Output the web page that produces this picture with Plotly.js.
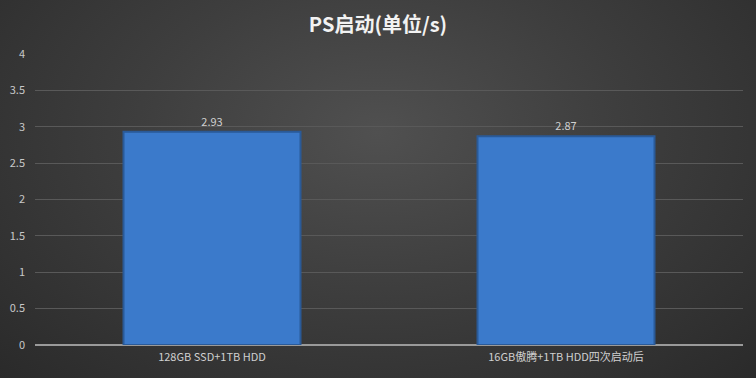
<!DOCTYPE html>
<html><head><meta charset="utf-8">
<script src="https://cdn.plot.ly/plotly-3.0.1.min.js"></script>
<style>
html,body{margin:0;padding:0;width:756px;height:378px;overflow:hidden;}
body{background:radial-gradient(ellipse at 50% 35%, #505050 0%, #3e3e3e 45%, #2a2a2a 100%);}
#chart{width:756px;height:378px;}
</style></head>
<body><div id="chart"></div>
<script>
const categories = ["128GB SSD+1TB HDD", "16GB傲腾+1TB HDD四次启动后"];
const values = [2.93, 2.87];
const labels = ["2.93", "2.87"];
const tickVals = [0, 0.5, 1, 1.5, 2, 2.5, 3, 3.5, 4];
const tickText = ["0", "0.5", "1", "1.5", "2", "2.5", "3", "3.5", "4"];

const fontFam = '"Microsoft YaHei","Noto Sans CJK SC","DejaVu Sans",sans-serif';
Plotly.newPlot('chart', [{
  type: 'bar',
  x: categories,
  y: values,
  text: labels,
  textposition: 'outside',
  textfont: {color: '#d0d0d0', size: 11, family: fontFam},
  cliponaxis: false,
  marker: {color: '#3b7acb', line: {color: '#2a5a98', width: 2}},
  hoverinfo: 'none'
}], {
  width: 756, height: 378,
  paper_bgcolor: 'rgba(0,0,0,0)',
  plot_bgcolor: 'rgba(0,0,0,0)',
  margin: {l: 35, r: 13, t: 54, b: 33},
  bargap: 0.5,
  showlegend: false,
  title: {text: '<b>PS启动(单位/s)</b>', x: 0.5, xanchor: 'center', y: 0.935, yanchor: 'middle',
          font: {color: '#f2f2f2', size: 20, family: fontFam}},
  xaxis: {tickfont: {color: '#d0d0d0', size: 11, family: fontFam}, showgrid: false,
          showline: false, ticks: '', ticklabelstandoff: 4, fixedrange: true},
  yaxis: {range: [0, 4], tickvals: tickVals, ticktext: tickText,
          tickfont: {color: '#c8c8c8', size: 11, family: fontFam},
          gridcolor: '#595959', gridwidth: 1, zeroline: true, zerolinecolor: '#9a9a9a', zerolinewidth: 1.5,
          showline: false, ticks: '', ticklabelstandoff: 9, fixedrange: true}
}, {staticPlot: true});
</script></body></html>
